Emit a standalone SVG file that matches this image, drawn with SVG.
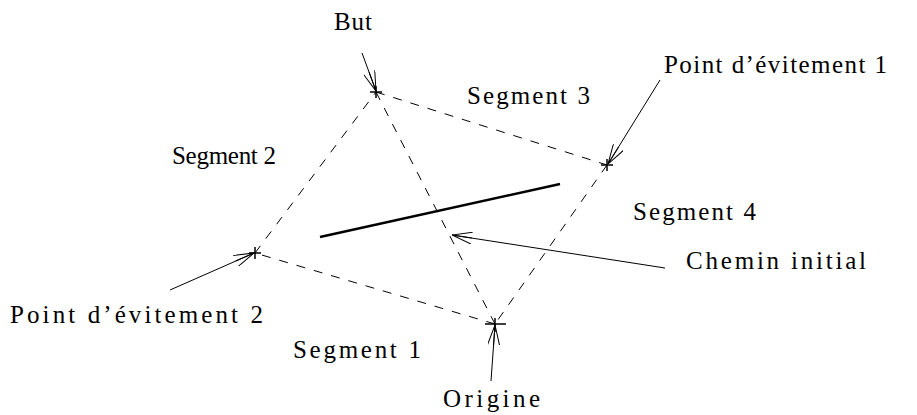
<svg xmlns="http://www.w3.org/2000/svg" width="917" height="415" viewBox="0 0 917 415">
  <style>
    .dash { stroke: #000; stroke-width: 1; stroke-dasharray: 9 9; fill: none; }
    .ptr { stroke: #000; stroke-width: 1; fill: none; marker-end: url(#open); }
    .mark { stroke: #000; stroke-width: 1.5; fill: none; }
  </style>
  <defs>
    <marker id="open" viewBox="0 0 20 12" refX="20" refY="6" markerWidth="20" markerHeight="12" markerUnits="userSpaceOnUse" orient="auto">
      <path d="M0,0 L20,6 L0,12 M20,6 L0,6" stroke="#000" stroke-width="1" fill="none"/>
    </marker>
  </defs>
  <rect width="917" height="415" fill="#fff"/>

  <g id="connectors">
    <line class="dash" x1="376" y1="92" x2="607" y2="165"/>
    <line class="dash" x1="607" y1="165" x2="495" y2="324"/>
    <line class="dash" x1="495" y1="324" x2="255" y2="253"/>
    <line class="dash" x1="255" y1="253" x2="376" y2="92"/>
    <line class="dash" x1="376" y1="92" x2="495" y2="324"/>
    <line class="ptr" x1="362" y1="53" x2="376" y2="91"/>
    <line class="ptr" x1="660" y1="80" x2="608" y2="164"/>
    <line class="ptr" x1="170" y1="290" x2="254" y2="253"/>
    <line class="ptr" x1="491" y1="381" x2="495" y2="325"/>
    <line class="ptr" x1="665" y1="268" x2="452" y2="235"/>
  </g>

  <g font-family="'Liberation Serif', 'DejaVu Serif', serif" font-size="25" fill="#000">
    <g id="chemin-initial">
      <line x1="320" y1="237" x2="560" y2="184" stroke="#000" stroke-width="2.5"/>
      <text x="686" y="269" textLength="180" lengthAdjust="spacing">Chemin initial</text>
    </g>

    <g id="but">
      <path class="mark" d="M370,92 H382 M376,86 V98"/>
      <text x="334" y="30" textLength="38" lengthAdjust="spacing">But</text>
    </g>

    <g id="point-evitement-1">
      <path class="mark" d="M601,165 H613 M607,159 V171"/>
      <text x="664" y="73" textLength="223" lengthAdjust="spacing">Point d’évitement 1</text>
    </g>

    <g id="point-evitement-2">
      <path class="mark" d="M249,253 H261 M255,247 V259"/>
      <text x="10" y="323" textLength="253" lengthAdjust="spacing">Point d’évitement 2</text>
    </g>

    <g id="origine">
      <path class="mark" d="M485,324 H506 M495,318 V332"/>
      <text x="443" y="407" textLength="97" lengthAdjust="spacing">Origine</text>
    </g>

    <g id="segment-labels">
      <text x="467" y="104" textLength="123" lengthAdjust="spacing">Segment 3</text>
      <text x="172" y="164" textLength="104" lengthAdjust="spacing">Segment 2</text>
      <text x="633" y="220" textLength="123" lengthAdjust="spacing">Segment 4</text>
      <text x="293" y="358" textLength="128" lengthAdjust="spacing">Segment 1</text>
    </g>
  </g>
</svg>
